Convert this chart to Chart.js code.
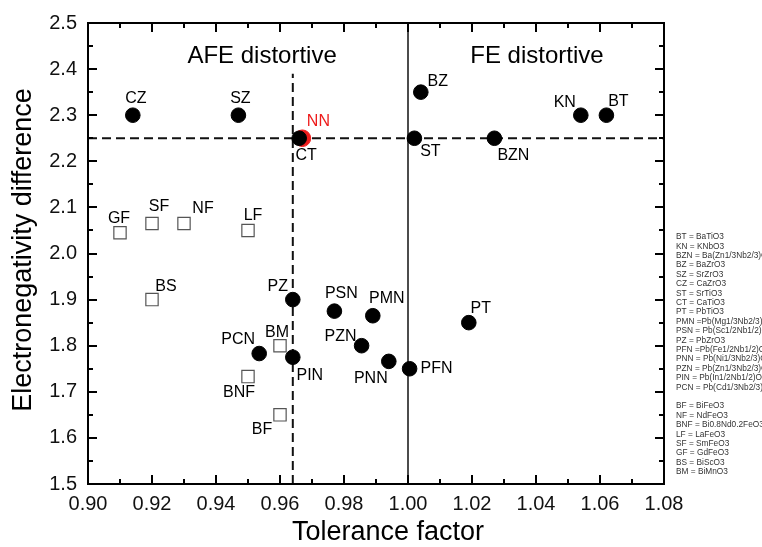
<!DOCTYPE html>
<html>
<head>
<meta charset="utf-8">
<script src="https://cdn.jsdelivr.net/npm/chart.js@4.4.1/dist/chart.umd.min.js"></script>
<style>
  html, body { margin: 0; padding: 0; background: #fff; }
  #wrap { width: 762px; height: 547px; }
</style>
</head>
<body>
<div id="wrap"><canvas id="c" width="762" height="547"></canvas></div>
<script>
// ---------- data ----------
const perovskiteNames = ['CZ','SZ','CT','BZ','ST','BZN','KN','BT','PZ','PSN','PMN','PCN','PIN','PZN','PNN','PFN','PT'];
const perovskiteT     = [0.914,0.947,0.966,1.004,1.002,1.027,1.054,1.062,0.964,0.977,0.989,0.9535,0.964,0.9855,0.994,1.0005,1.019];
const perovskiteEN    = [2.30,2.30,2.25,2.35,2.25,2.25,2.30,2.30,1.90,1.875,1.865,1.783,1.775,1.80,1.766,1.75,1.85];

const bismuthNames = ['GF','SF','NF','LF','BS','BM','BNF','BF'];
const bismuthT     = [0.910,0.920,0.930,0.950,0.920,0.960,0.950,0.960];
const bismuthEN    = [2.045,2.065,2.065,2.05,1.90,1.80,1.733,1.65];

const nnNames = ['NN'];
const nnT     = [0.967];
const nnEN    = [2.25];

const afeBoundaryT  = [0.964, 0.964];
const afeBoundaryEN = [1.5, 2.39];
const feBoundaryT   = [1.00, 1.00];
const feBoundaryEN  = [1.5, 2.5];
const enThresholdT  = [0.90, 1.08];
const enThresholdEN = [2.25, 2.25];

const xTickValues = [0.90,0.92,0.94,0.96,0.98,1.00,1.02,1.04,1.06,1.08];
const xTickLabels = ['0.90','0.92','0.94','0.96','0.98','1.00','1.02','1.04','1.06','1.08'];
const yTickValues = [1.5,1.6,1.7,1.8,1.9,2.0,2.1,2.2,2.3,2.4,2.5];
const yTickLabels = ['1.5','1.6','1.7','1.8','1.9','2.0','2.1','2.2','2.3','2.4','2.5'];

const legendLines = [
  'BT = BaTiO3','KN = KNbO3','BZN = Ba(Zn1/3Nb2/3)O3','BZ = BaZrO3','SZ = SrZrO3','CZ = CaZrO3',
  'ST = SrTiO3','CT = CaTiO3','PT = PbTiO3','PMN =Pb(Mg1/3Nb2/3)O3','PSN = Pb(Sc1/2Nb1/2)O3',
  'PZ = PbZrO3','PFN =Pb(Fe1/2Nb1/2)O3','PNN = Pb(Ni1/3Nb2/3)O3','PZN = Pb(Zn1/3Nb2/3)O3',
  'PIN = Pb(In1/2Nb1/2)O3','PCN = Pb(Cd1/3Nb2/3)O3','',
  'BF = BiFeO3','NF = NdFeO3','BNF = Bi0.8Nd0.2FeO3','LF = LaFeO3','SF = SmFeO3','GF = GdFeO3',
  'BS = BiScO3','BM = BiMnO3'
];

// ---------- label placement (pixel offsets from the point) ----------
const labelOffsets = {
  CZ:[3,-17], SZ:[2,-17], CT:[7,17], BZ:[17,-11], ST:[16,13], BZN:[19,17], KN:[-16,-13], BT:[12,-14],
  PZ:[-15,-13], PSN:[7,-18], PMN:[14,-17], PCN:[-21,-14], PIN:[17,18], PZN:[-21,-9], PNN:[-18,17],
  PFN:[27,0], PT:[12,-14],
  GF:[-1,-14], SF:[7,-17], NF:[19,-15], LF:[5,-15], BS:[14,-13], BM:[-3,-13], BNF:[-9,16], BF:[-18,15],
  NN:[16,-17]
};

const FONT = '"Liberation Sans", Arial, Helvetica, sans-serif';
const toPts = (xs, ys) => xs.map((x, i) => ({x: x, y: ys[i]}));

const decorPlugin = {
  id: 'decor',
  afterDatasetsDraw(chart) {
    const ctx = chart.ctx;
    const xs = chart.scales.x, ys = chart.scales.y;
    const a = chart.chartArea;
    ctx.save();
    // frame
    ctx.strokeStyle = '#000';
    ctx.lineWidth = 2;
    ctx.strokeRect(a.left, a.top, a.right - a.left, a.bottom - a.top);
    // ticks (inward, all four sides)
    ctx.beginPath();
    for (let i = 1; i < 18; i++) {
      const px = Math.round(xs.getPixelForValue(0.90 + i * 0.01));
      const len = (i % 2 === 0) ? 9 : 5;
      ctx.moveTo(px, a.bottom); ctx.lineTo(px, a.bottom - len);
      ctx.moveTo(px, a.top); ctx.lineTo(px, a.top + len);
    }
    for (let i = 1; i < 20; i++) {
      const py = Math.round(ys.getPixelForValue(1.5 + i * 0.05));
      const len = (i % 2 === 0) ? 9 : 5;
      ctx.moveTo(a.left, py); ctx.lineTo(a.left + len, py);
      ctx.moveTo(a.right, py); ctx.lineTo(a.right - len, py);
    }
    ctx.stroke();

    // point labels
    ctx.textAlign = 'center';
    ctx.textBaseline = 'middle';
    ctx.font = '16px ' + FONT;
    const drawLabels = (names, tx, ty, color) => {
      ctx.fillStyle = color;
      names.forEach((n, i) => {
        const o = labelOffsets[n] || [0, -14];
        ctx.fillText(n, xs.getPixelForValue(tx[i]) + o[0], ys.getPixelForValue(ty[i]) + o[1]);
      });
    };
    drawLabels(perovskiteNames, perovskiteT, perovskiteEN, '#000');
    drawLabels(bismuthNames, bismuthT, bismuthEN, '#000');
    drawLabels(nnNames, nnT, nnEN, '#ee1c1c');

    // region titles
    ctx.fillStyle = '#000';
    ctx.font = '24px ' + FONT;
    ctx.fillText('AFE distortive', xs.getPixelForValue(0.9544), ys.getPixelForValue(2.427));
    ctx.fillText('FE distortive', xs.getPixelForValue(1.0403), ys.getPixelForValue(2.427));

    // axis titles
    ctx.font = '27px ' + FONT;
    ctx.fillText('Tolerance factor', 388, 533);
    ctx.save();
    ctx.translate(24, 250);
    ctx.rotate(-Math.PI / 2);
    ctx.fillText('Electronegativity difference', 0, 0);
    ctx.restore();

    // abbreviation key
    ctx.textAlign = 'left';
    ctx.fillStyle = '#333';
    ctx.font = '8.3px ' + FONT;
    legendLines.forEach((t, i) => {
      if (t) ctx.fillText(t, 676, 237 + i * 9.4);
    });
    ctx.restore();
  }
};

new Chart(document.getElementById('c'), {
  type: 'scatter',
  data: {
    datasets: [
      {
        label: 'perovskites',
        data: toPts(perovskiteT, perovskiteEN),
        pointStyle: 'circle', pointRadius: 7.3,
        backgroundColor: '#000', borderColor: '#000', borderWidth: 1
      },
      {
        label: 'NN',
        data: toPts(nnT, nnEN),
        pointStyle: 'circle', pointRadius: 8.3,
        backgroundColor: '#ee1c1c', borderColor: '#ee1c1c', borderWidth: 1
      },
      {
        label: 'Bi/rare-earth',
        data: toPts(bismuthT, bismuthEN),
        pointStyle: 'rect', pointRadius: 8.7,
        backgroundColor: '#fff', borderColor: '#555', borderWidth: 1.2
      },
      {
        label: 'AFE boundary', type: 'line',
        data: toPts(afeBoundaryT, afeBoundaryEN),
        borderColor: '#111', borderWidth: 2, borderDash: [9, 5], pointRadius: 0, fill: false
      },
      {
        label: 'FE boundary', type: 'line',
        data: toPts(feBoundaryT, feBoundaryEN),
        borderColor: '#111', borderWidth: 1.5, pointRadius: 0, fill: false
      },
      {
        label: 'EN threshold', type: 'line',
        data: toPts(enThresholdT, enThresholdEN),
        borderColor: '#111', borderWidth: 2, borderDash: [9, 5], pointRadius: 0, fill: false
      }
    ]
  },
  options: {
    responsive: false,
    animation: false,
    events: [],
    layout: { padding: { left: 0, top: 18, right: 98, bottom: 0 } },
    plugins: { legend: { display: false }, tooltip: { enabled: false } },
    scales: {
      x: {
        type: 'linear', min: 0.90, max: 1.08,
        afterBuildTicks: s => { s.ticks = xTickValues.map(v => ({value: v})); },
        afterFit: s => { s.height = 63; },
        grid: { display: false, drawTicks: false },
        border: { display: false },
        ticks: {
          padding: 8, color: '#111',
          font: { size: 20, family: FONT },
          callback: (v, i) => xTickLabels[i]
        }
      },
      y: {
        type: 'linear', min: 1.5, max: 2.5,
        afterBuildTicks: s => { s.ticks = yTickValues.map(v => ({value: v})); },
        afterFit: s => { s.width = 88; },
        grid: { display: false, drawTicks: false },
        border: { display: false },
        ticks: {
          padding: 11, color: '#111',
          font: { size: 20, family: FONT },
          callback: (v, i) => yTickLabels[i]
        }
      }
    }
  },
  plugins: [decorPlugin]
});
</script>
</body>
</html>
